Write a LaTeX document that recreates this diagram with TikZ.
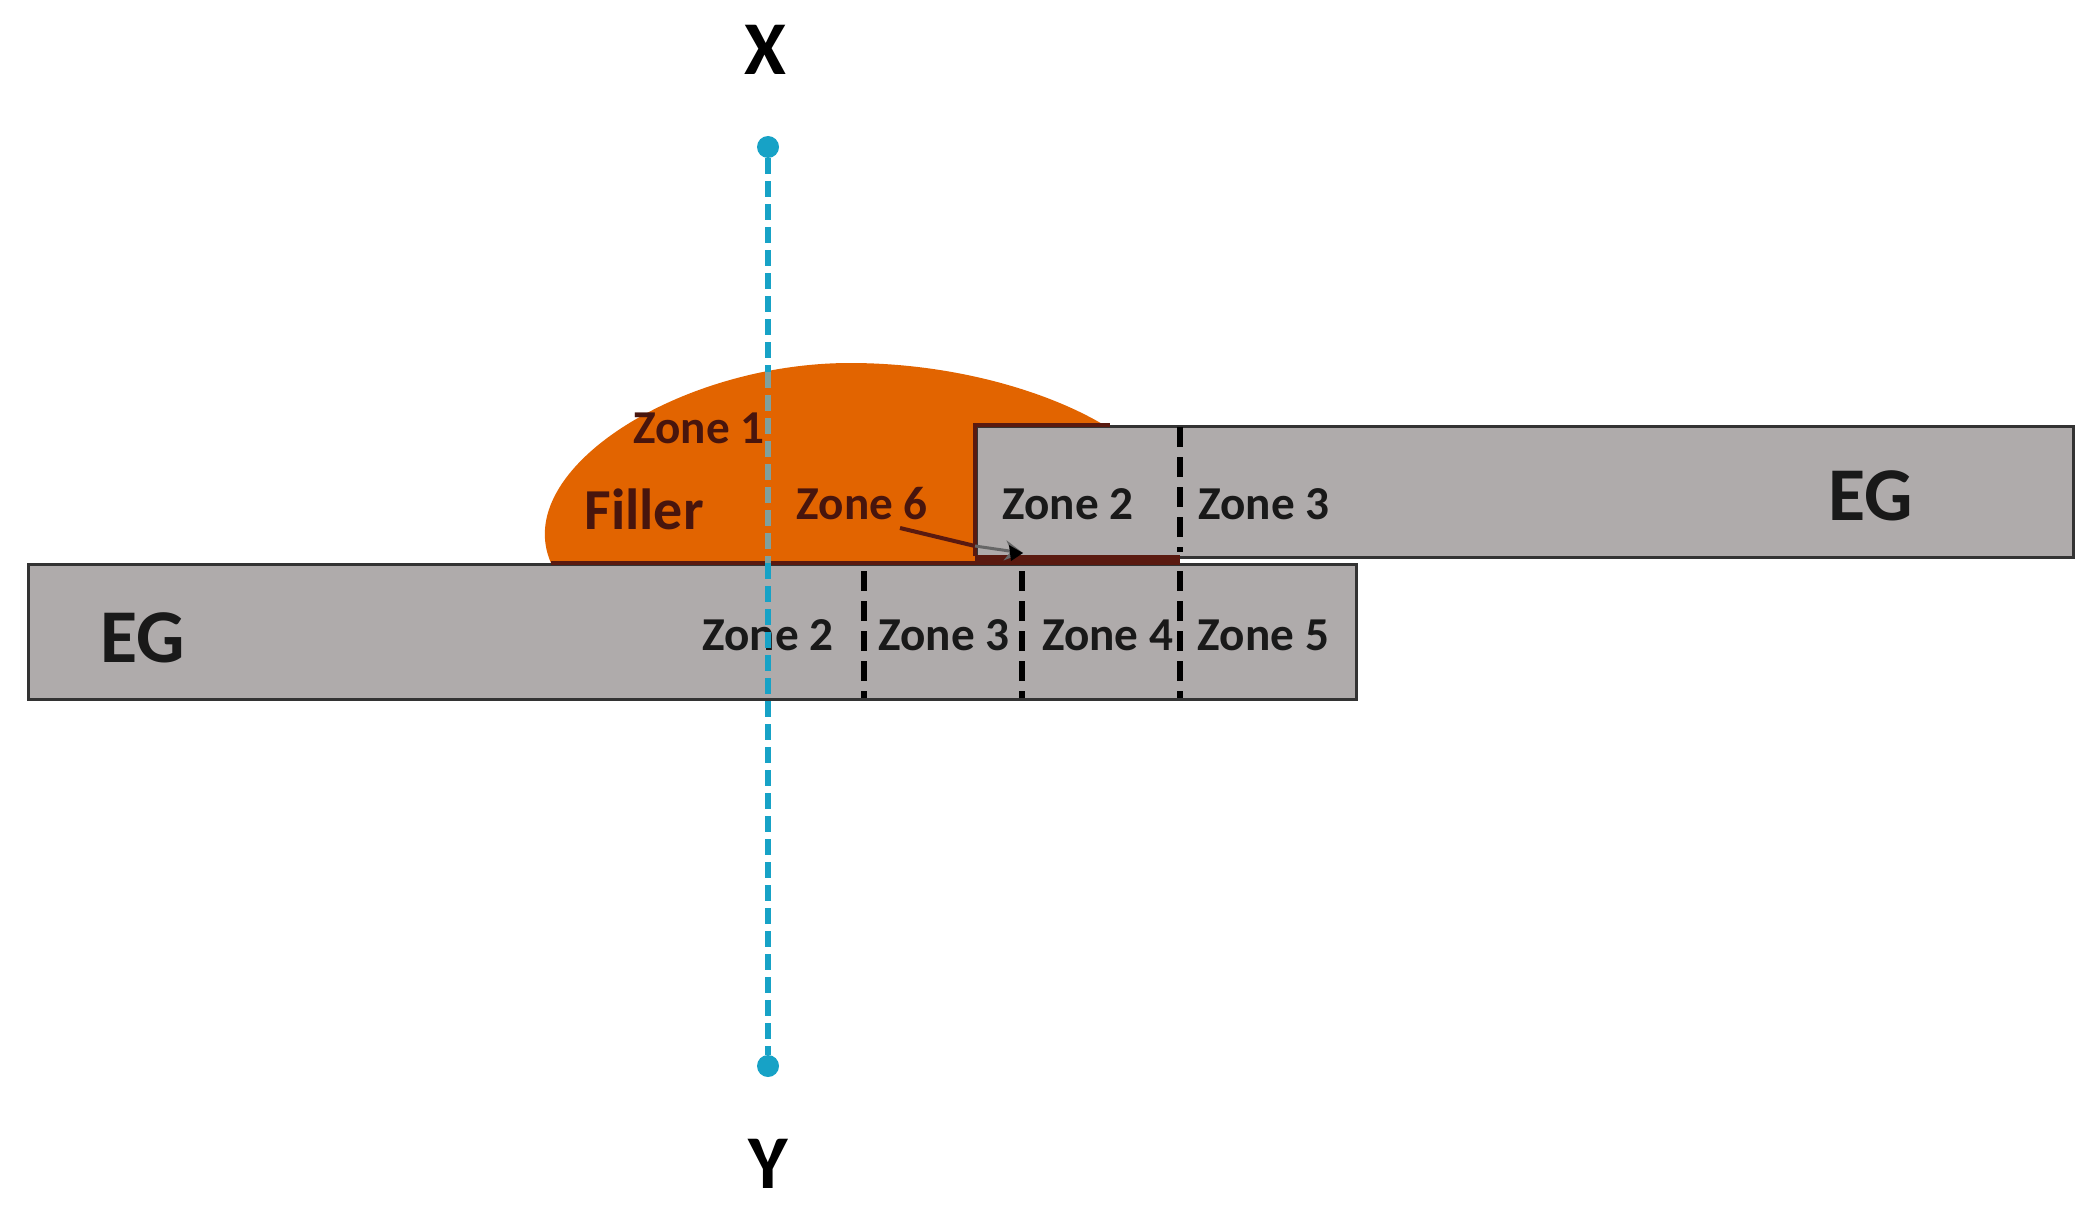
\documentclass[tikz,border=0pt]{standalone}
\usepackage{fontspec}
\setmainfont{Carlito}
\usetikzlibrary{positioning,arrows.meta}
\definecolor{eg}{HTML}{AFABAB}
\definecolor{filler}{HTML}{E26400}
\definecolor{edgeg}{HTML}{333333}
\definecolor{edger}{HTML}{5A1A10}
\definecolor{axis}{HTML}{17A2C6}
\definecolor{axisd}{HTML}{80A09C}
\tikzset{
  bar/.style = {draw=edgeg,fill=eg,line width=1.7pt,inner sep=0pt,anchor=north west},
  zone/.style = {font=\fontsize{23.6}{26}\selectfont\bfseries,text=black!90,inner sep=0pt},
  zoner/.style = {zone,text=edger!80!black},
  big/.style = {font=\fontsize{38}{40}\selectfont\bfseries,inner sep=0pt},
  dot/.style = {circle,fill=axis,inner sep=0pt,minimum size=11pt},
  cut/.style = {black,line width=2.7pt,dash pattern=on 10pt off 5pt},
  ax/.style = {axis,line width=3pt,dash pattern=on 8pt off 3.5pt},
  axd/.style = {ax,axisd},
  rim/.style = {edger,line width=1.7pt}
}
\newlength{\zgap}
\setlength{\zgap}{16pt}

\begin{document}
\begin{tikzpicture}[x=0.5pt,y=-0.5pt]
\useasboundingbox (0,0) rectangle (2098,1214);

\fill[filler] (551,563) .. controls (510,470) and (680,363) .. (850,363)
  .. controls (960,363) and (1060,395) .. (1115,432) -- (1180,563) -- cycle;

\node[bar,minimum width=664pt,minimum height=67.5pt] (lower) at (27,563) {};
\node[bar,minimum width=548.5pt,minimum height=65.5pt] (upper) at (975,425) {};

% filler side of the outlines
\draw[rim] (975,556) -- (975,425) -- (1110,425);
\draw[rim] (551,563) -- (1180,563);
\draw[edger,line width=4pt] (975,559) -- (1180,559);

\draw[cut] (864,571) -- (864,698);
\draw[cut] (1022,571) -- (1022,698);
\draw[cut] (1180,571) -- (1180,698);
\draw[cut] (1180,427) -- (1180,552);

\node[zone] (zl2) at (768,635) {Zone 2};
\node[zone,right=\zgap+6pt of zl2] (zl3) {Zone 3};
\node[zone,right=\zgap of zl3] (zl4) {Zone 4};
\node[zone,right=12pt of zl4] (zl5) {Zone 5};

\node[zone] (zu2) at (1068,504) {Zone 2};
\node[zone,right=2\zgap of zu2] (zu3) {Zone 3};

\node[zoner,left=37pt of zu2] (z6) {Zone 6};
\node[zoner] (z1) at (699,428) {Zone 1};
\node[big,text=edger!80!black,font=\fontsize{29}{30}\selectfont\bfseries] (fil) at (644,509) {Filler};

\node[big,text=black!90] (egl) at (143,638) {EG};
\node[big,text=black!90] (egr) at (1871,496) {EG};

\coordinate (tip) at (1023,553);
\draw[edger,line width=2pt] (900,528) -- (975,546);
\draw[-{Stealth[length=9pt,width=10pt]},black!60,line width=1.5pt] (975,546) -- (tip);
\fill[black] (tip) -- ++(-14,-8) -- ++(2,16) -- cycle;

\node[big] (x) at (765,50) {X};
\node[big] (y) at (768,1164) {Y};
\node[dot] (dx) at (768,147) {};
\node[dot] (dy) at (768,1066) {};
\coordinate (ft) at (768,372);
\coordinate (fb) at (768,563);
\draw[ax] (dx) -- (ft);
\draw[axd] (ft) -- (fb);
\draw[ax] (fb) -- (dy);
\end{tikzpicture}
\end{document}
